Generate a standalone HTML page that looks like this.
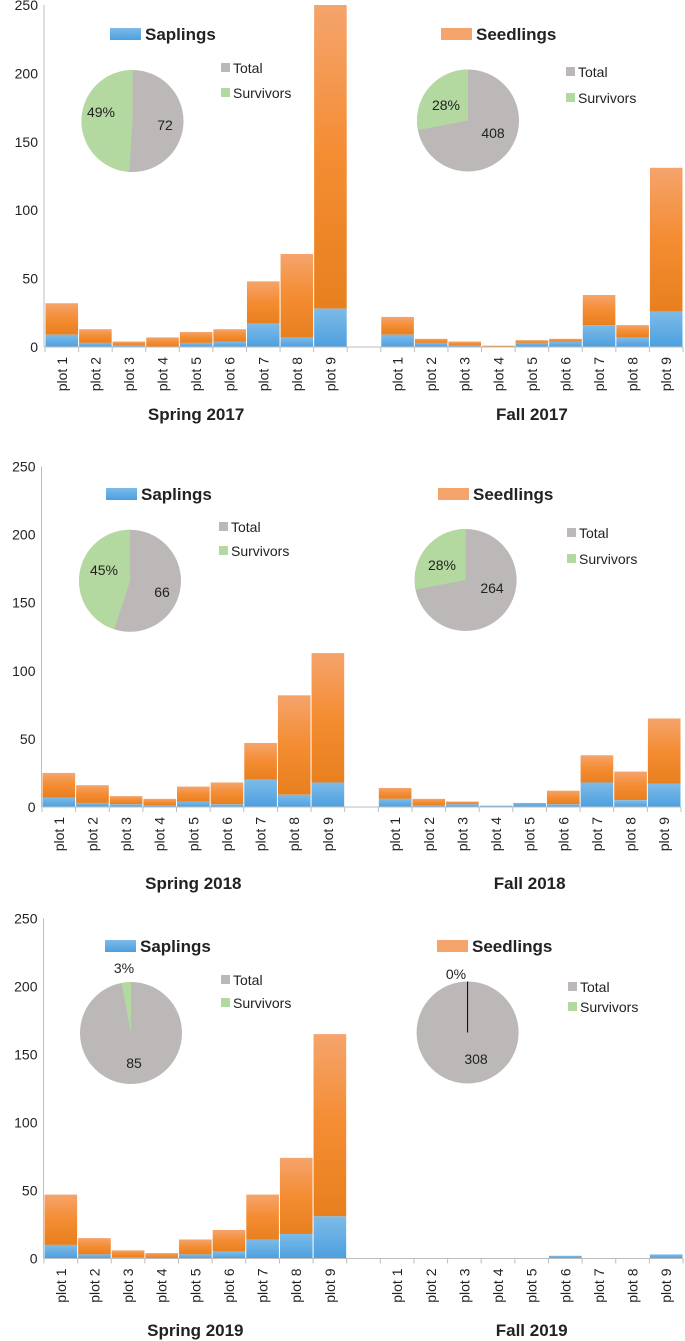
<!DOCTYPE html>
<html><head><meta charset="utf-8"><style>
html,body{margin:0;padding:0;background:#fff;}
svg{display:block;font-family:"Liberation Sans",sans-serif;}
</style></head><body>
<svg id="chart" width="685" height="1341" viewBox="0 0 685 1341" xmlns="http://www.w3.org/2000/svg">
<defs>
<linearGradient id="gOr" x1="0" y1="0" x2="0" y2="1"><stop offset="0" stop-color="#f5a46c"/><stop offset="0.5" stop-color="#f48c32"/><stop offset="1" stop-color="#e8801f"/></linearGradient>
<linearGradient id="gBl" x1="0" y1="0" x2="0" y2="1"><stop offset="0" stop-color="#7dbbe8"/><stop offset="1" stop-color="#4d9fdf"/></linearGradient>
</defs>
</svg>
<script>
const categories = ["plot 1","plot 2","plot 3","plot 4","plot 5","plot 6","plot 7","plot 8","plot 9"];
const yTicks = [0,50,100,150,200,250];
const seasonNames = ["Spring 2017","Fall 2017","Spring 2018","Fall 2018","Spring 2019","Fall 2019"];
const totalsSpring2017 = [32,13,4,7,11,13,48,68,250];
const saplingsSpring2017 = [9,3,1,0,3,4,17,7,28];
const totalsFall2017 = [22,6,4,1,5,6,38,16,131];
const saplingsFall2017 = [9,3,1,0,3,4,16,7,26];
const totalsSpring2018 = [25,16,8,6,15,18,47,82,113];
const saplingsSpring2018 = [7,3,2,1,4,2,20,9,18];
const totalsFall2018 = [14,6,4,1,3,12,38,26,65];
const saplingsFall2018 = [6,1,2,1,3,2,18,5,17];
const totalsSpring2019 = [47,15,6,4,14,21,47,74,165];
const saplingsSpring2019 = [10,3,1,0,3,5,14,18,31];
const saplingsFall2019 = [0,0,0,0,0,2,0,0,3];
const totalsFall2019 = saplingsFall2019.slice();
const pieSurvivorPct = [49,28,45,28,3,0];
const pieTotals = [72,408,66,264,85,308];

const NS = "http://www.w3.org/2000/svg";
const svg = document.getElementById('chart');
function mk(tag, attrs, parent, text){
  const e = document.createElementNS(NS, tag);
  for (const k in attrs) e.setAttribute(k, attrs[k]);
  if (text !== undefined) e.textContent = text;
  (parent||svg).appendChild(e);
  return e;
}
const rows = [
  {zero:347, top:5, ax:44, x0:45, x1:683, title:420,
   sapL:[110,28], seedL:[441,28], legS:[221,63,97], legF:[566,67,102],
   pies:[{cx:132.5,cy:121,r:51,pl:[101,117],tl:[165,130]},{cx:468,cy:120.5,r:51,pl:[446,110],tl:[493,138]}]},
  {zero:807, top:466.5, ax:41.5, x0:42, x1:681, title:889,
   sapL:[106,488], seedL:[438,488], legS:[219,522,555], legF:[567,528,563],
   pies:[{cx:130,cy:580.8,r:51,pl:[104,575],tl:[162,597]},{cx:465.6,cy:580,r:51,pl:[442,570],tl:[492,593]}]},
  {zero:1258.5, top:918.5, ax:43.5, x0:44, x1:683, title:1336,
   sapL:[105,940], seedL:[437,940], legS:[221,975,1007], legF:[568,982,1011],
   pies:[{cx:131,cy:1033,r:51,pl:[124,973],tl:[134,1068]},{cx:467.6,cy:1032.5,r:51,pl:[456,979],tl:[476,1064]}]}
];
const totalsAll = [totalsSpring2017,totalsFall2017,totalsSpring2018,totalsFall2018,totalsSpring2019,totalsFall2019];
const saplingsAll = [saplingsSpring2017,saplingsFall2017,saplingsSpring2018,saplingsFall2018,saplingsSpring2019,saplingsFall2019];

rows.forEach((R, ri) => {
  const g = mk('g', {});
  
  
  const yS = v => R.zero - v * (R.zero - R.top) / 250;
  const slot = (R.x1 - R.x0) / 19;
  const ax = mk('line', {x1:R.ax, y1:R.top, x2:R.ax, y2:R.zero, stroke:'#bdbdbd', 'stroke-width':1}, g);
  
  
  yTicks.forEach(t => {
    const tl = mk('text', {x:R.ax-6, y:yS(t)+5, 'text-anchor':'end', 'font-size':14, fill:'#222'}, g, String(t));
    
    
  });
  for (let s = 0; s < 2; s++) {
    const si = ri*2 + s;
    const tot = totalsAll[si], sap = saplingsAll[si];
    const base = R.x0 + s*10*slot;
    categories.forEach((c, i) => {
      const x = base + i*slot;
      if (tot[i] > sap[i]) {
        const r = mk('rect', {x:x+0.5, y:yS(tot[i]), width:slot-1, height:yS(sap[i])-yS(tot[i]), fill:'url(#gOr)'}, g);
        
        
      }
      if (sap[i] > 0) {
        const b = mk('rect', {x:x+0.5, y:yS(sap[i]), width:slot-1, height:R.zero-yS(sap[i]), fill:'url(#gBl)'}, g);
        
        
      }
      const lab = mk('text', {transform:`translate(${x+slot/2+5},${R.zero+10}) rotate(-90)`, 'text-anchor':'end', 'font-size':14, fill:'#222'}, g, c);
      
      
    });
    const tt = mk('text', {x:base+4.5*slot, y:R.title, 'text-anchor':'middle', 'font-size':17, 'font-weight':'bold', fill:'#222'}, g, seasonNames[si]);
    
    
  }
  mk('line', {x1:R.ax, y1:R.zero, x2:R.x1, y2:R.zero, stroke:'#bdbdbd', 'stroke-width':1}, g);
  for (let k = 0; k <= 19; k++) {
    const x = R.x0 + k*slot;
    mk('line', {x1:x, y1:R.zero, x2:x, y2:R.zero+5, stroke:'#bdbdbd', 'stroke-width':1}, g);
  }
  const sl = mk('rect', {x:R.sapL[0], y:R.sapL[1], width:31, height:12, fill:'url(#gBl)'}, g);
  
  
  const st = mk('text', {x:R.sapL[0]+35, y:R.sapL[1]+12, 'font-size':17, 'font-weight':'bold', fill:'#222'}, g, 'Saplings');
  
  
  const dl = mk('rect', {x:R.seedL[0], y:R.seedL[1], width:31, height:12, fill:'#f5a46c'}, g);
  
  
  const dt = mk('text', {x:R.seedL[0]+35, y:R.seedL[1]+12, 'font-size':17, 'font-weight':'bold', fill:'#222'}, g, 'Seedlings');
  
  
  [R.legS, R.legF].forEach(L => {
    mk('rect', {x:L[0], y:L[1], width:9, height:9, fill:'#bcb8b8'}, g);
    const a = mk('text', {x:L[0]+12, y:L[1]+10, 'font-size':14, fill:'#222'}, g, 'Total');
    
    
    mk('rect', {x:L[0], y:L[2]-9, width:9, height:9, fill:'#b3d9a0'}, g);
    const b = mk('text', {x:L[0]+12, y:L[2]+1, 'font-size':14, fill:'#222'}, g, 'Survivors');
    
    
  });
  R.pies.forEach((P, pi) => {
    const si = ri*2 + pi;
    const pct = pieSurvivorPct[si];
    const c = mk('circle', {cx:P.cx, cy:P.cy, r:P.r, fill:'#bcb8b8'}, g);
    
    
    if (pct > 0) {
      const ang = -Math.PI/2 - pct/100*2*Math.PI;
      const ex = P.cx + P.r*Math.cos(ang), ey = P.cy + P.r*Math.sin(ang);
      const large = pct > 50 ? 1 : 0;
      const w = mk('path', {d:`M${P.cx},${P.cy} L${P.cx},${P.cy-P.r} A${P.r},${P.r} 0 ${large} 0 ${ex},${ey} Z`, fill:'#b3d9a0'}, g);
      
      
    } else {
      mk('line', {x1:P.cx, y1:P.cy-P.r, x2:P.cx, y2:P.cy, stroke:'#000', 'stroke-width':1}, g);
    }
    const pl = mk('text', {x:P.pl[0], y:P.pl[1], 'text-anchor':'middle', 'font-size':14, fill:'#222'}, g, pct + '%');
    
    
    const tl = mk('text', {x:P.tl[0], y:P.tl[1], 'text-anchor':'middle', 'font-size':14, fill:'#222'}, g, String(pieTotals[si]));
    
    
  });
});
</script>
</body></html>
